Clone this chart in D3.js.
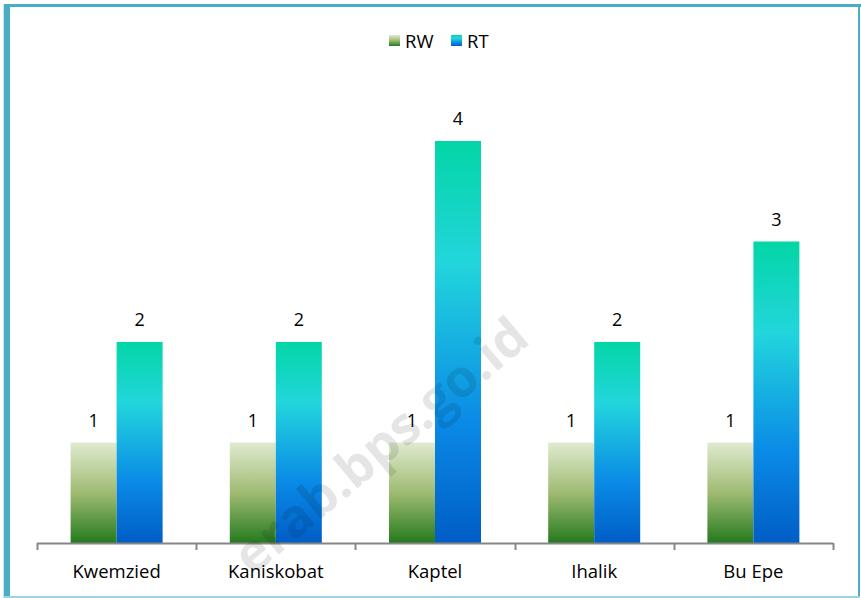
<!DOCTYPE html>
<html>
<head>
<meta charset="utf-8">
<script src="https://cdn.jsdelivr.net/npm/d3@7"></script>
<style>
  html, body { margin: 0; padding: 0; background: #fff; }
  svg { display: block; }
  text { font-family: "Open Sans", "Noto Sans", "Liberation Sans", sans-serif; }
</style>
</head>
<body>
<svg id="chart" width="861" height="598"></svg>
<script>
const categories = ["Kwemzied", "Kaniskobat", "Kaptel", "Ihalik", "Bu Epe"];
const seriesNames = ["RW", "RT"];
const rwValues = [1, 1, 1, 1, 1];
const rtValues = [2, 2, 4, 2, 3];

const W = 861, H = 598;
const svg = d3.select("#chart");
const defs = svg.append("defs");

// gradients
const gRW = defs.append("linearGradient").attr("id", "gradRW")
  .attr("x1", 0).attr("y1", 0).attr("x2", 0).attr("y2", 1);
[[0, "#e0ead0"], [0.5, "#9fbb72"], [1, "#257a1e"]].forEach(([o, c]) =>
  gRW.append("stop").attr("offset", o).attr("stop-color", c));
const gRT = defs.append("linearGradient").attr("id", "gradRT")
  .attr("x1", 0).attr("y1", 0).attr("x2", 0).attr("y2", 1);
[[0, "#03d6a6"], [0.3, "#22d6dc"], [0.7, "#0a8ae6"], [1, "#005dc6"]].forEach(([o, c]) =>
  gRT.append("stop").attr("offset", o).attr("stop-color", c));

// frame
svg.append("rect").attr("x", 3).attr("y", 4).attr("width", 1).attr("height", 594).attr("fill", "#c8e4ec");
svg.append("rect").attr("x", 4).attr("y", 4).attr("width", 6).attr("height", 594).attr("fill", "#4bacc6");
svg.append("rect").attr("x", 4).attr("y", 4).attr("width", 857).attr("height", 3).attr("fill", "#4bacc6");
svg.append("rect").attr("x", 858).attr("y", 4).attr("width", 2).attr("height", 594).attr("fill", "#4bacc6");
svg.append("rect").attr("x", 4).attr("y", 596).attr("width", 856).attr("height", 2).attr("fill", "#9fd3e0");

// scales
const x0 = d3.scaleBand().domain(categories).range([37, 833]).paddingInner(0).paddingOuter(0);
const x1 = d3.scaleBand().domain(seriesNames).range([0, 92]);
const y = d3.scaleLinear().domain([0, 5]).range([543, 40.5]);

const data = categories.map((c, i) => ({ cat: c, RW: rwValues[i], RT: rtValues[i] }));

const groups = svg.append("g").selectAll("g").data(data).join("g")
  .attr("transform", d => `translate(${x0(d.cat) + (x0.bandwidth() - 92) / 2},0)`);

groups.selectAll("rect").data(d => seriesNames.map(s => ({ s, v: d[s] }))).join("rect")
  .attr("x", d => x1(d.s))
  .attr("width", x1.bandwidth())
  .attr("y", d => y(d.v))
  .attr("height", d => y(0) - y(d.v))
  .attr("fill", d => d.s === "RW" ? "url(#gradRW)" : "url(#gradRT)");

groups.selectAll("text.val").data(d => seriesNames.map(s => ({ s, v: d[s] }))).join("text")
  .attr("class", "val")
  .attr("x", d => x1(d.s) + x1.bandwidth() / 2)
  .attr("y", d => y(d.v) - 16)
  .attr("text-anchor", "middle")
  .attr("font-size", 18)
  .attr("fill", "#000")
  .text(d => d.v);

// axis
const axisG = svg.append("g").attr("transform", `translate(0,${y(0)})`);
axisG.append("line").attr("x1", 37).attr("x2", 833).attr("y1", 0.5).attr("y2", 0.5)
  .attr("stroke", "#868686").attr("stroke-width", 2);
const tickXs = categories.map(c => x0(c)).concat([x0(categories[categories.length - 1]) + x0.bandwidth()]);
axisG.selectAll("line.tick").data(tickXs).join("line").attr("class", "tick")
  .attr("x1", d => Math.round(d) + 0.5).attr("x2", d => Math.round(d) + 0.5)
  .attr("y1", 0).attr("y2", 7).attr("stroke", "#868686").attr("stroke-width", 2);
axisG.selectAll("text.cat").data(categories).join("text").attr("class", "cat")
  .attr("x", d => x0(d) + x0.bandwidth() / 2)
  .attr("y", 35)
  .attr("text-anchor", "middle")
  .attr("font-size", 18.5)
  .attr("fill", "#000")
  .text(d => d);

// legend
const legend = svg.append("g");
const legendItems = [{ s: "RW", x: 389 }, { s: "RT", x: 451 }];
legendItems.forEach(it => {
  legend.append("rect").attr("x", it.x).attr("y", 35).attr("width", 11).attr("height", 11)
    .attr("fill", it.s === "RW" ? "url(#gradRW)" : "url(#gradRT)");
  legend.append("text").attr("x", it.x + 16).attr("y", 47.5).attr("font-size", 18.5)
    .attr("fill", "#000").text(it.s);
});

// watermark (on top, semi-transparent)
svg.append("text")
  .attr("transform", "translate(532,342) rotate(-40)")
  .attr("text-anchor", "end")
  .attr("font-size", 52)
  .attr("font-weight", "bold")
  .attr("font-family", "'Liberation Sans', Arial, sans-serif")
  .attr("fill", "#000")
  .attr("fill-opacity", 0.1)
  .text("erab.bps.go.id");
</script>
</body>
</html>
